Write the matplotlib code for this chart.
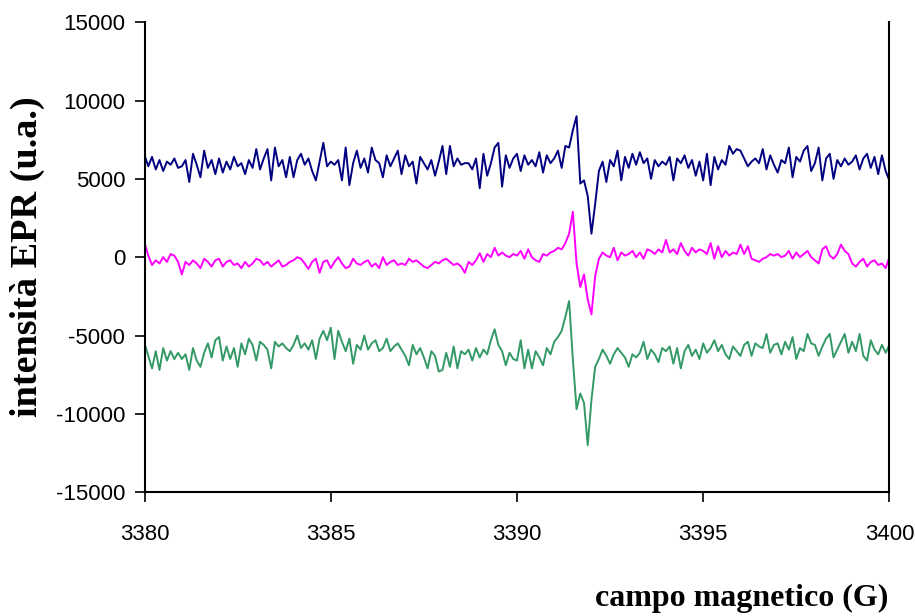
import matplotlib
matplotlib.use('Agg')
import matplotlib.pyplot as plt
import numpy as np

# campo magnetico, passo 0.1 G da 3380 a 3400
campo = np.round(np.arange(3380.0, 3400.01, 0.1), 1)

# spettro 1 (blu)
blu = [
    6500, 5800, 6400, 5600, 6200, 5500, 6100, 5900, 6300, 5700,
    5800, 6200, 4800, 6600, 5900, 5100, 6800, 5700, 6200, 5300,
    6300, 5400, 6100, 5600, 6400, 5800, 6000, 5300, 6200, 5700,
    6900, 5600, 6300, 6900, 4900, 7000, 5800, 6200, 5100, 6400,
    5100, 6200, 6600, 5900, 6300, 5500, 4900, 6100, 7300, 5800,
    6100, 5900, 6200, 4900, 7000, 4600, 6000, 6800, 5700, 6300,
    5400, 7000, 6200, 6000, 5100, 6500, 5800, 6300, 6800, 5300,
    6500, 5800, 6100, 4700, 6400, 6000, 5600, 6200, 5200, 6100,
    7100, 5300, 7100, 5800, 6300, 5900, 6000, 6000, 5600, 6300,
    4400, 6600, 5200, 6000, 7000, 7300, 4500, 6500, 5700, 6300,
    6600, 5500, 6500, 5900, 6200, 5800, 6700, 5400, 6500, 6000,
    6300, 6800, 5700, 7100, 7000, 8100, 9000, 4700, 4900, 3900,
    1500, 3400, 5500, 6100, 4800, 6200, 5800, 6800, 4900, 6400,
    5700, 6600, 5900, 6700, 6000, 6300, 5000, 6200, 5800, 6100,
    5900, 6400, 4900, 6300, 6000, 6500, 5700, 6200, 5200, 6100,
    4900, 6600, 4600, 6400, 5600, 6200, 5900, 7100, 6600, 6900,
    6800, 6300, 5800, 6100, 6300, 6000, 6900, 5600, 6500, 5900,
    5400, 6200, 6000, 7000, 5100, 6400, 6100, 6800, 7100, 5500,
    6000, 7000, 4900, 6300, 6600, 5000, 6200, 5800, 6300, 5900,
    6100, 6500, 5600, 6300, 6600, 5700, 6400, 5300, 6500, 5500,
    4900,
]

# spettro 2 (magenta)
magenta = [
    900, 100, -500, -200, -400, 0, -300, 200, 100, -300,
    -1100, -300, -500, -200, -400, -700, -100, -300, -600, -200,
    -100, -600, -300, -200, -500, -400, -700, -300, -600, -400,
    -100, -200, -500, -300, -600, -400, -200, -600, -500, -300,
    -200, 0, -100, -400, -750, -300, -100, -1000, -300, -200,
    -700, -300, 0, -400, -700, -600, -100, -400, -500, -300,
    -200, -600, -400, -700, 0, -500, -300, -200, -500, -400,
    -500, -100, -300, -200, -400, -600, -700, -500, -300, -400,
    -200, -100, -300, -500, -400, -600, -1000, -300, -500, -200,
    250, -300, 200, 0, 600, 100, 300, 100, 0, 200,
    100, 400, -100, 500, 0, -200, -300, 200, 100, 300,
    400, 600, 500, 900, 1500, 2900, -400, -1900, -1100, -2700,
    -3650, -1200, -100, 300, 100, 0, 600, -200, 300, 100,
    200, 400, 0, 300, -100, 500, 400, 200, 500, 300,
    1100, 300, 500, 200, 900, 400, 100, 600, 300, 500,
    400, 200, 900, -100, 700, 0, 400, 100, 300, 200,
    800, 200, 700, -100, -200, -300, -100, 0, 200, 100,
    200, 0, 100, 400, -100, 300, 0, 200, 400, 0,
    -200, -400, 500, 700, 100, -100, 200, 800, 400, 200,
    -400, -600, -300, -100, -600, -300, -200, -500, -400, -700,
    0,
]

# spettro 3 (verde)
verde = [
    -5500, -6300, -7100, -6000, -7200, -5800, -6600, -6000, -6500, -6100,
    -6500, -6200, -7200, -5800, -6600, -7000, -6100, -5500, -6400, -5300,
    -5100, -6600, -5700, -6500, -5800, -7000, -5500, -6200, -5200, -5600,
    -6600, -5400, -5600, -5900, -7100, -5400, -5700, -5500, -5800, -6000,
    -5600, -5000, -5800, -5500, -5900, -5300, -6500, -5200, -4700, -5300,
    -4500, -6500, -4700, -5400, -6000, -5200, -6800, -5600, -5900, -5000,
    -5900, -5500, -5300, -6000, -5800, -5200, -6000, -5700, -5500, -5900,
    -6300, -6900, -5600, -6200, -5800, -6400, -7100, -6000, -6300, -7300,
    -7200, -6100, -7000, -5700, -7100, -6000, -6200, -5900, -6600, -5800,
    -6400, -5900, -6200, -5300, -4600, -5600, -6000, -6900, -6100, -6500,
    -6600, -5300, -7100, -5900, -7100, -6000, -6400, -6900, -5800, -6200,
    -5400, -5100, -4700, -3800, -2800, -6500, -9700, -8700, -9300, -12000,
    -9100, -7000, -6500, -5900, -6300, -6800, -6200, -5800, -6100, -6400,
    -7000, -6200, -6400, -6100, -5400, -6500, -5900, -6200, -6700, -5800,
    -6000, -5700, -6800, -5800, -7100, -6000, -5600, -6300, -5900, -6500,
    -5500, -6100, -5800, -5300, -6000, -5600, -6200, -6500, -5700, -6000,
    -6300, -5600, -5400, -6300, -5500, -5700, -5800, -4900, -6100, -5600,
    -5500, -6200, -5400, -5900, -5100, -6500, -5800, -6000, -4900, -5500,
    -5600, -6300, -5700, -5200, -4900, -6400, -5900, -5400, -4900, -6100,
    -5400, -6000, -4900, -6300, -6600, -5300, -5900, -6200, -5600, -6100,
    -5600,
]

x_ticks = [3380, 3385, 3390, 3395, 3400]
y_ticks = [-15000, -10000, -5000, 0, 5000, 10000, 15000]


def main():
    fig = plt.figure(figsize=(9.15, 6.16), dpi=100)
    ax = fig.add_axes([0.158, 0.201, 0.814, 0.763])

    ax.plot(campo, blu, color='#000080', lw=1.4)
    ax.plot(campo, magenta, color='#FF00FF', lw=1.4)
    ax.plot(campo, verde, color='#339966', lw=1.4)

    ax.set_xlim(3380, 3400)
    ax.set_ylim(-15000, 15000)
    ax.set_xticks(x_ticks)
    ax.set_yticks(y_ticks)
    ax.set_xticklabels([str(v) for v in x_ticks])
    ax.set_yticklabels([str(v) for v in y_ticks])

    ax.spines['top'].set_visible(False)
    for s in ['left', 'bottom', 'right']:
        ax.spines[s].set_linewidth(1.5)
    ax.tick_params(axis='both', direction='out', length=7, width=1.2,
                   labelsize=16, labelfontfamily='Liberation Sans')
    ax.tick_params(axis='x', pad=16)
    ax.tick_params(axis='y', pad=7)
    ax.tick_params(right=False)

    fig.text(0.0295, 0.584, 'intensità EPR (u.a.)', rotation=90,
             ha='center', va='center', fontsize=27.5, fontweight='bold',
             family='Liberation Serif')
    fig.text(0.971, 0.029, 'campo magnetico (G)', ha='right', va='center',
             fontsize=23, fontweight='bold', family='Liberation Serif')

    fig.savefig('out.png', dpi=100)


if __name__ == "__main__":
    main()
